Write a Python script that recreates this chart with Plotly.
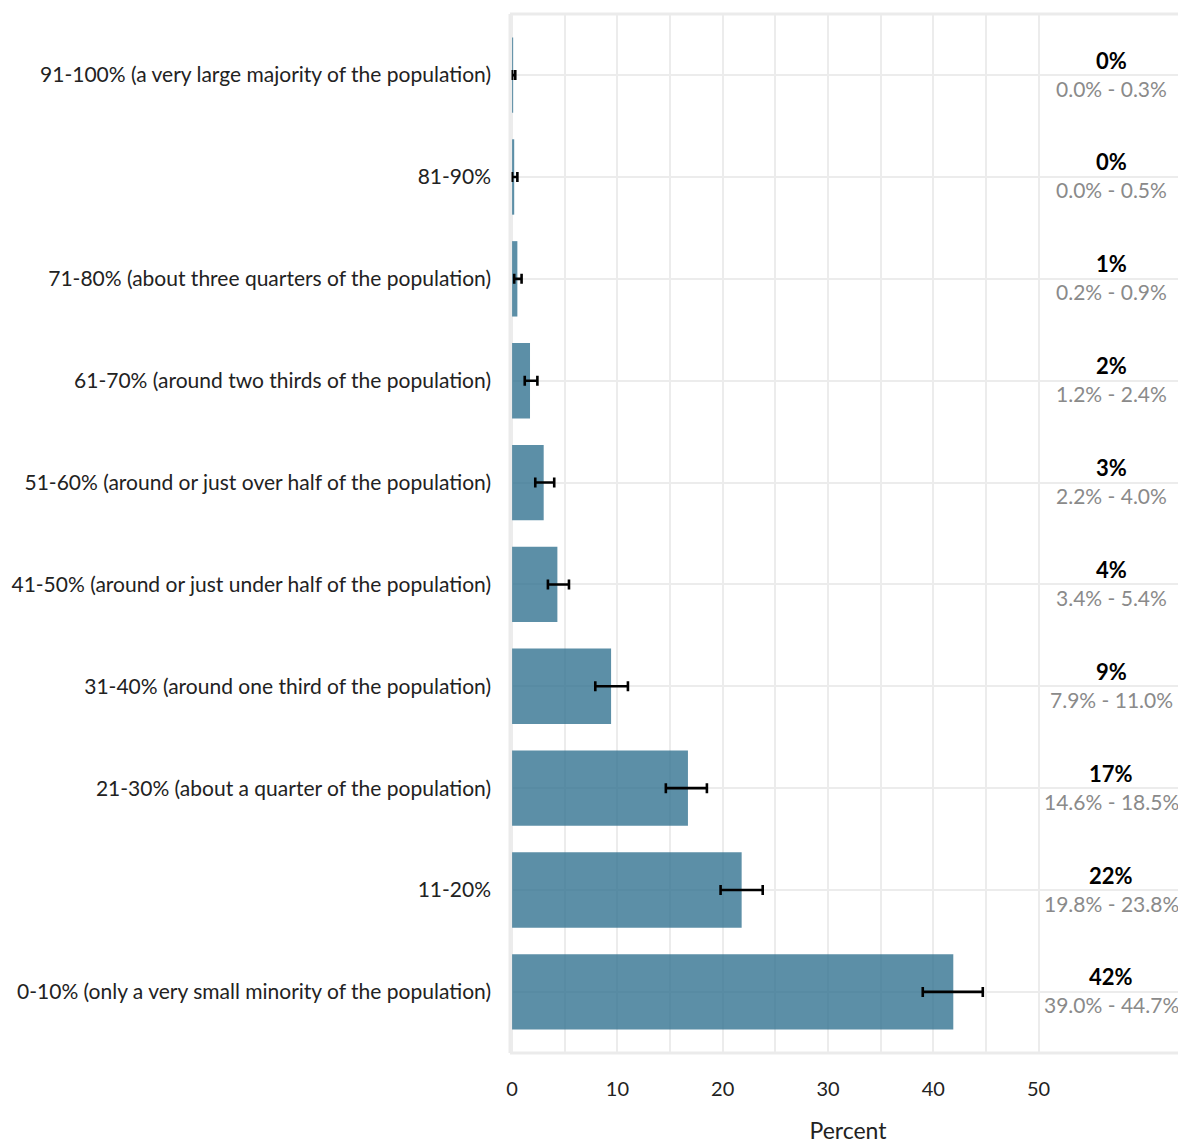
import plotly.graph_objects as go

categories = [
    "0-10% (only a very small minority of the population)",
    "11-20%",
    "21-30% (about a quarter of the population)",
    "31-40% (around one third of the population)",
    "41-50% (around or just under half of the population)",
    "51-60% (around or just over half of the population)",
    "61-70% (around two thirds of the population)",
    "71-80% (about three quarters of the population)",
    "81-90%",
    "91-100% (a very large majority of the population)",
]
values = [41.9, 21.8, 16.7, 9.4, 4.3, 3.0, 1.7, 0.5, 0.2, 0.1]
lower = [39.0, 19.8, 14.6, 7.9, 3.4, 2.2, 1.2, 0.2, 0.0, 0.0]
upper = [44.7, 23.8, 18.5, 11.0, 5.4, 4.0, 2.4, 0.9, 0.5, 0.3]
pct_labels = ["42%", "22%", "17%", "9%", "4%", "3%", "2%", "1%", "0%", "0%"]
x_ticks = [0, 10, 20, 30, 40, 50]

FONT = "Lato"
label_x = 56.9

fig = go.Figure()
fig.add_trace(go.Bar(
    y=categories, x=values, orientation="h",
    marker=dict(color="rgba(46,111,142,0.78)", line=dict(width=0)),
    width=0.74,
    error_x=dict(type="data", symmetric=False,
                 array=[u - v for u, v in zip(upper, values)],
                 arrayminus=[v - l for v, l in zip(values, lower)],
                 color="black", thickness=2.6, width=5),
    hoverinfo="skip",
))

annotations = []
for c, p, lo, hi in zip(categories, pct_labels, lower, upper):
    annotations.append(dict(
        x=label_x, y=c, xref="x", yref="y", text=f"<b>{p}</b>",
        showarrow=False, yshift=15, font=dict(family=FONT, size=22, color="black"),
        xanchor="center", yanchor="middle"))
    annotations.append(dict(
        x=label_x, y=c, xref="x", yref="y", text=f"{lo:.1f}% - {hi:.1f}%",
        showarrow=False, yshift=-13, font=dict(family=FONT, size=21, color="#8a8a8a"),
        xanchor="center", yanchor="middle"))

shapes = [
    dict(type="rect", xref="x", yref="paper", x0=50.2, x1=80, y0=0, y1=1,
         fillcolor="white", line=dict(width=0), layer="between"),
    dict(type="line", xref="paper", yref="paper", x0=0, x1=1, y0=0, y1=0,
         line=dict(color="#ebebeb", width=3), layer="above"),
    dict(type="line", xref="paper", yref="paper", x0=0, x1=1, y0=1, y1=1,
         line=dict(color="#ebebeb", width=3), layer="above"),
    dict(type="line", xref="paper", yref="paper", x0=0, x1=0, y0=0, y1=1,
         line=dict(color="#ebebeb", width=3), layer="above"),
]

fig.update_layout(
    width=1178, height=1136,
    margin=dict(l=502, r=0, t=6, b=91, autoexpand=False),
    paper_bgcolor="white", plot_bgcolor="white",
    showlegend=False,
    font=dict(family=FONT, color="#222222"),
    annotations=annotations, shapes=shapes,
)
fig.update_xaxes(
    range=[-0.2, 64.0], tickvals=x_ticks, ticktext=[str(t) for t in x_ticks],
    showgrid=True, gridcolor="#ececec", gridwidth=1.5, zeroline=False,
    minor=dict(tickvals=[5, 15, 25, 35, 45], showgrid=True, gridcolor="#ececec", gridwidth=1.5),
    ticks="", ticklabelstandoff=22, tickfont=dict(size=20, color="#222222"),
    title=dict(text="Percent", font=dict(size=23, color="#222222"), standoff=26),
    automargin=False,
)
fig.update_yaxes(
    categoryorder="array", categoryarray=categories, range=[-0.6, 9.6],
    showgrid=True, gridcolor="#ececec", gridwidth=1.5, zeroline=False,
    ticks="", ticklabelstandoff=18, tickfont=dict(size=21, color="#222222"),
    automargin=False,
)
fig.write_html("out.html")
